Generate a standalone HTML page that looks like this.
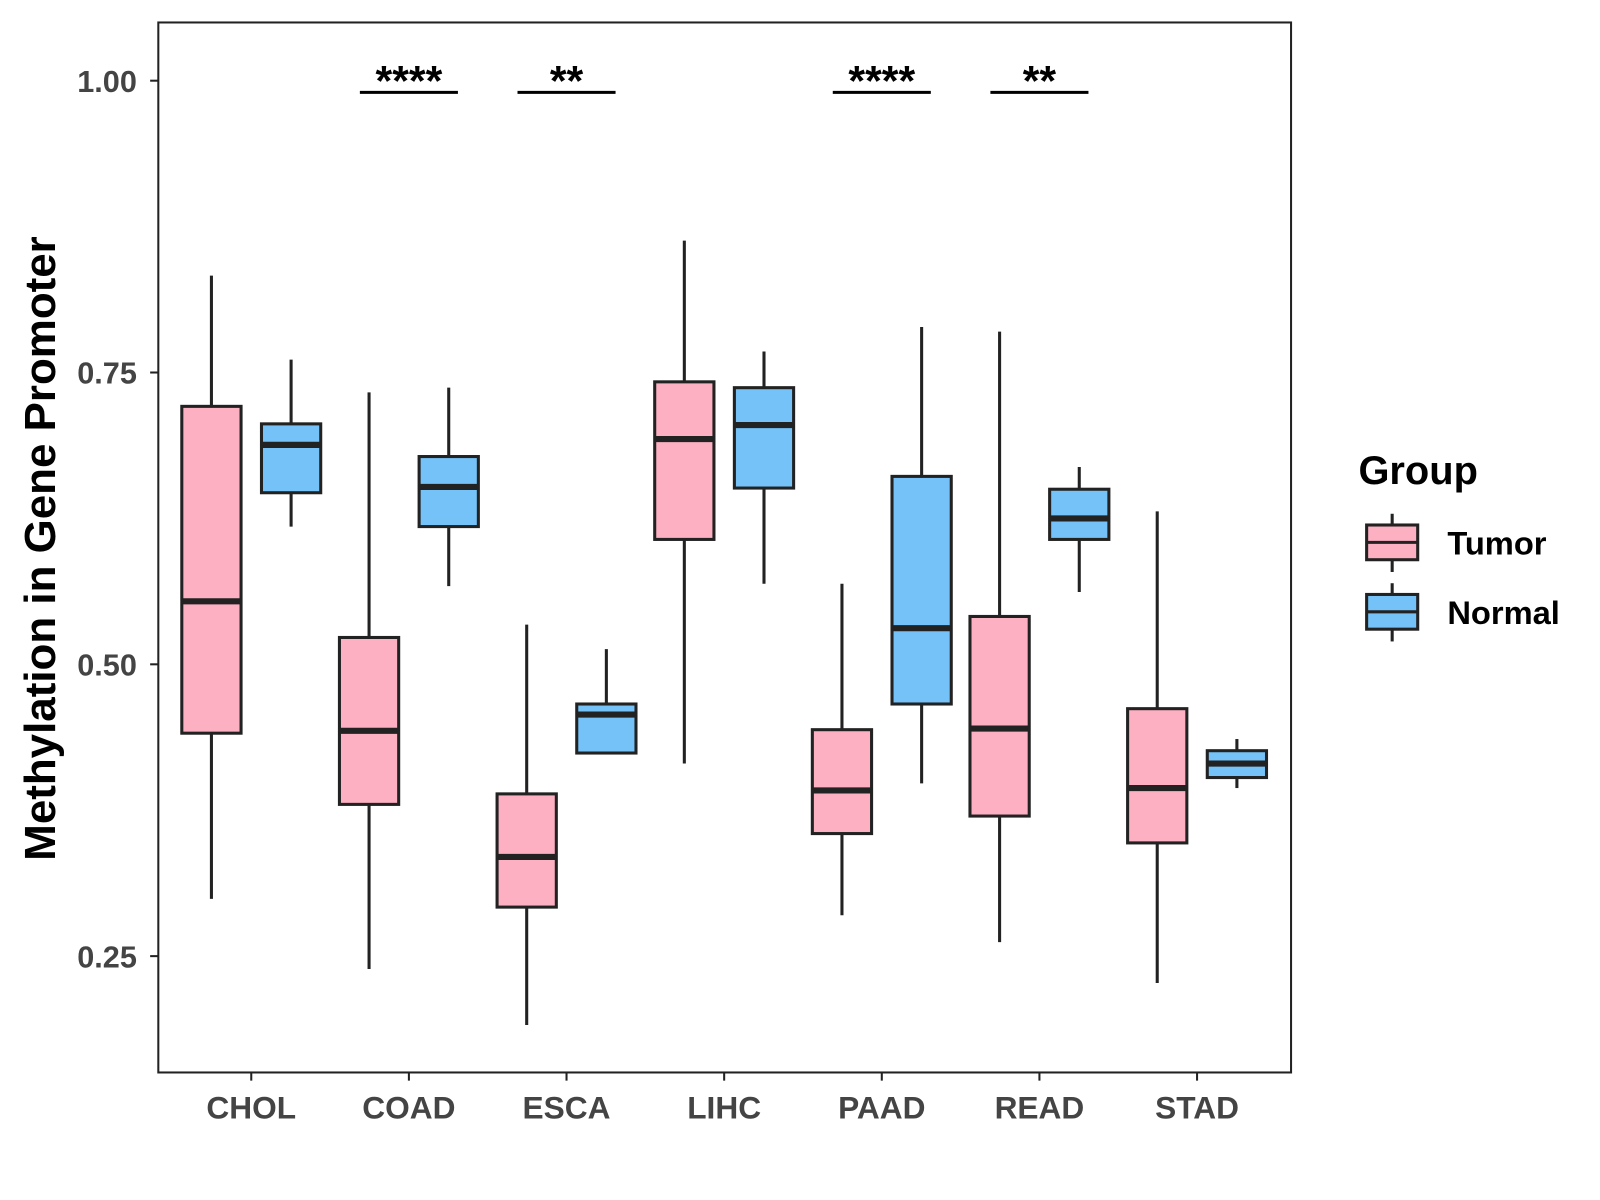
<!DOCTYPE html>
<html><head><meta charset="utf-8"><style>
html,body{margin:0;padding:0;background:#fff;}
svg{display:block;font-family:"Liberation Sans",Arial,sans-serif;font-weight:bold;}
</style></head><body>
<svg width="1600" height="1200" viewBox="0 0 1600 1200">
<g id="chart" transform="scale(1.0214)">
<rect x="155" y="22" width="1109" height="1028" fill="#fff" stroke="#222" stroke-width="2"/>
<g id="marks"></g>
<text transform="translate(54,537) rotate(-90)" text-anchor="middle" font-size="43" fill="#000">Methylation in Gene Promoter</text>
<g>
<text x="1330" y="474" font-size="39" fill="#000">Group</text>
<g>
<line x1="1363" y1="503" x2="1363" y2="560" stroke="#222" stroke-width="3"/>
<rect x="1338" y="514" width="50" height="34" fill="#FDB0C2" stroke="#222" stroke-width="3"/>
<line x1="1338" y1="531" x2="1388" y2="531" stroke="#222" stroke-width="3"/>
<text x="1417" y="543" font-size="32" fill="#000">Tumor</text></g>
<g>
<line x1="1363" y1="571" x2="1363" y2="628" stroke="#222" stroke-width="3"/>
<rect x="1338" y="582" width="50" height="34" fill="#74C2F8" stroke="#222" stroke-width="3"/>
<line x1="1338" y1="599" x2="1388" y2="599" stroke="#222" stroke-width="3"/>
<text x="1417" y="611" font-size="32" fill="#000">Normal</text></g>
</g>
</g>
</svg>
<script>
const categories=["CHOL","COAD","ESCA","LIHC","PAAD","READ","STAD"];
// [whiskerHigh, q3, median, q1, whiskerLow]
const tumorStats=[[0.833,0.721,0.554,0.441,0.299],[0.733,0.523,0.443,0.380,0.239],[0.534,0.389,0.335,0.292,0.191],[0.863,0.742,0.693,0.607,0.415],[0.569,0.444,0.392,0.355,0.285],[0.785,0.541,0.445,0.370,0.262],[0.631,0.462,0.394,0.347,0.227]];
const normalStats=[[0.761,0.706,0.688,0.647,0.618],[0.737,0.678,0.652,0.618,0.567],[0.513,0.466,0.457,0.424,0.424],[0.768,0.737,0.705,0.651,0.569],[0.789,0.661,0.531,0.466,0.398],[0.669,0.650,0.625,0.607,0.562],[0.436,0.426,0.415,0.403,0.394]];
const yTicks=[0.25,0.50,0.75,1.00];
const yTickLabels=["0.25","0.50","0.75","1.00"];
const sigCategories=["COAD","ESCA","PAAD","READ"];
const sigLabels=["****","**","****","**"];
const sigLevel=[0.99];

const NS="http://www.w3.org/2000/svg";
const g=document.getElementById('marks');
function y(v){return 79+(1-v)*1142.8;}
function x(i){return 246+i*154.33;}
function mk(tag,attrs,parent){const e=document.createElementNS(NS,tag);for(const k in attrs)e.setAttribute(k,attrs[k]);(parent||g).appendChild(e);return e;}

yTicks.forEach((t,i)=>{
  const l=mk('line',{x1:147,x2:155,y1:y(t),y2:y(t),stroke:'#222','stroke-width':2});
  
  
  const tx=mk('text',{x:134,y:y(t)+11,'text-anchor':'end','font-size':30,fill:'#444'});
  tx.textContent=yTickLabels[i];
  
  
});
categories.forEach((c,i)=>{
  const l=mk('line',{x1:x(i),x2:x(i),y1:1050,y2:1058,stroke:'#222','stroke-width':2});
  
  
  const tx=mk('text',{x:x(i),y:1095,'text-anchor':'middle','font-size':31,fill:'#444'});
  tx.textContent=c;
  
  
});
function box(cx,s,fill,name){
  const grp=mk('g',{});
  
  
  mk('line',{x1:cx,x2:cx,y1:y(s[0]),y2:y(s[4]),stroke:'#222','stroke-width':3},grp);
  mk('rect',{x:cx-29,y:y(s[1]),width:58,height:y(s[3])-y(s[1]),fill:fill,stroke:'#222','stroke-width':3},grp);
  mk('line',{x1:cx-29,x2:cx+29,y1:y(s[2]),y2:y(s[2]),stroke:'#222','stroke-width':6},grp);
}
categories.forEach((c,i)=>{
  box(x(i)-39,tumorStats[i],'#FDB0C2','box-tumor-'+c.toLowerCase());
  box(x(i)+39,normalStats[i],'#74C2F8','box-normal-'+c.toLowerCase());
});
sigCategories.forEach((c,k)=>{
  const i=categories.indexOf(c);
  const l=mk('line',{x1:x(i)-48,x2:x(i)+48,y1:y(sigLevel[0]),y2:y(sigLevel[0]),stroke:'#000','stroke-width':3});
  
  
  const t=mk('text',{x:x(i),y:y(sigLevel[0])+3,'text-anchor':'middle','font-size':42,fill:'#000'});
  t.textContent=sigLabels[k];
  
  
});
</script>
</body></html>
